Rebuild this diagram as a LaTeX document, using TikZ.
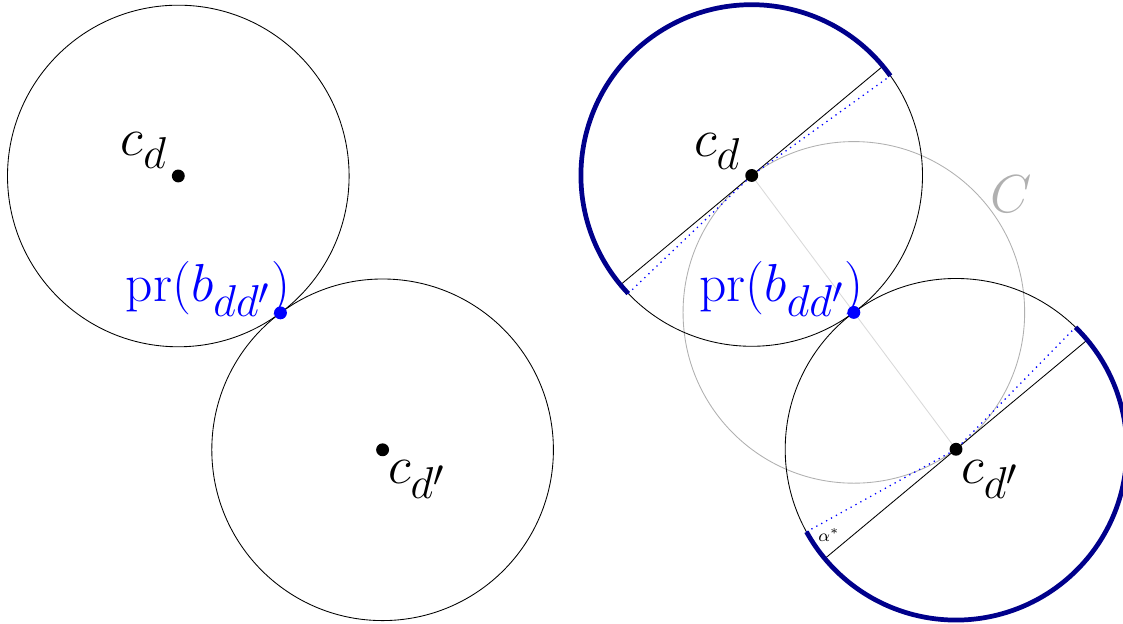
\documentclass[tikz,border=0pt]{standalone}
\usepackage{amsmath, amssymb}
\usepackage{tikz}
\usetikzlibrary{calc}
\definecolor{mNavy}{HTML}{00008B}
\definecolor{mBlue}{HTML}{0000FF}
\definecolor{mGray}{HTML}{B0B0B0}

\begin{document}
\begin{tikzpicture}[x=0.465pt, y=0.465pt,
    dot/.style={circle, fill, inner sep=0pt, minimum size=6pt},
    lbl/.style={font=\Huge, inner sep=0pt, anchor=base west},
    halfarc/.style={mNavy, line width=2.2pt}]
    \useasboundingbox (0,0) rectangle (1123,624);
    \clip (0,0) rectangle (1123,624);
    \def\crad{170.8}
    % left picture
    \coordinate (lcd) at (178.3,448);
    \coordinate (lcdp) at ($(lcd)+(204.3,-273.8)$);
    \coordinate (lmid) at ($(lcd)!0.5!(lcdp)$);
    \draw (lcd) circle[radius=\crad];
    \draw (lcdp) circle[radius=\crad];
    \node[dot] (ldot) at (lcd) {};
    \node[dot] (ldotp) at (lcdp) {};
    \node[dot, mBlue] (lpr) at (lmid) {};
    \node[lbl] (lcdlab) at ($(lcd)+(-58,20)$) {$c_d$};
    \node[lbl] (lcdplab) at ($(lcdp)+(5,-34)$) {$c_{d'}$};
    \node[lbl, mBlue] (lprlab) at ($(lmid)+(-155,11)$) {$\mathrm{pr}(b_{dd'})$};
    % right picture
    \coordinate (rcd) at (751.7,448.5);
    \coordinate (rcdp) at ($(rcd)+(204.3,-273.8)$);
    \coordinate (rmid) at ($(rcd)!0.5!(rcdp)$);
    \draw[mGray] (rmid) circle[radius=\crad];
    \draw (rcd) circle[radius=\crad];
    \draw (rcdp) circle[radius=\crad];
    \draw[gray!30] (rcd) -- (rcdp);
    % diameters
    \coordinate (rdiamA) at ($(rcd)+(39.8:\crad)$);
    \coordinate (rdiamB) at ($(rcd)+(219.8:\crad)$);
    \coordinate (rdiamC) at ($(rcdp)+(39.8:\crad)$);
    \coordinate (rdiamD) at ($(rcdp)+(219.8:\crad)$);
    \draw (rdiamB) -- (rdiamA);
    \draw (rdiamD) -- (rdiamC);
    % arc ends
    \coordinate (rendA) at ($(rcd)+(35.7:\crad)$);
    \coordinate (rendB) at ($(rcd)+(223.7:\crad)$);
    \coordinate (rendC) at ($(rcdp)+(45.6:\crad)$);
    \coordinate (rendD) at ($(rcdp)+(208.9:\crad)$);
    \draw[mBlue, dotted, line width=0.6pt] (rendB) -- (rcd) -- (rendA);
    \draw[mBlue, dotted, line width=0.6pt] (rendD) -- (rcdp) -- (rendC);
    \draw[halfarc] (rendA) arc[start angle=35.7, end angle=223.7, radius=\crad];
    \draw[halfarc] (rendC) arc[start angle=45.6, end angle=-151.1, radius=\crad];
    \node[dot] (rdot) at (rcd) {};
    \node[dot] (rdotp) at (rcdp) {};
    \node[dot, mBlue] (rpr) at (rmid) {};
    \node[lbl] (rcdlab) at ($(rcd)+(-58,19)$) {$c_d$};
    \node[lbl] (rcdplab) at ($(rcdp)+(5,-34)$) {$c_{d'}$};
    \node[lbl, mBlue] (rprlab) at ($(rmid)+(-155,11)$) {$\mathrm{pr}(b_{dd'})$};
    \node[lbl, mGray] (clab) at (990,411) {$C$};
    \node[font=\footnotesize, inner sep=0pt] (alab) at (829,89) {$\alpha^*$};
\end{tikzpicture}
\end{document}
